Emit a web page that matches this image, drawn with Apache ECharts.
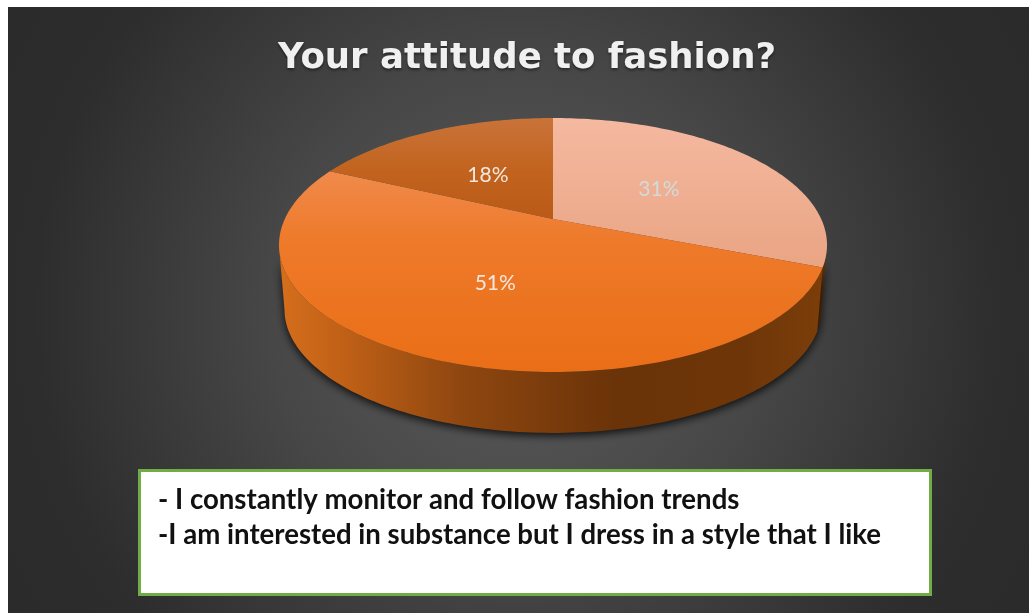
<!DOCTYPE html>
<html>
<head>
<meta charset="utf-8">
<style>html,body{margin:0;padding:0;background:#fff}#c{width:1029px;height:613px}</style>
<script src="https://cdn.jsdelivr.net/npm/echarts@6/dist/echarts.min.js"></script>
</head>
<body>
<div id="c"></div>
<script>
const titleText = 'Your attitude to fashion?';
const categories = ['Slice A', 'Slice B', 'Slice C'];
const shares = [31, 51, 18];
const noteLines = ['- I constantly monitor and follow fashion trends', '-I am interested in substance but I dress in a style that I like'];

const G = echarts.graphic;
const topStops = [
  [[0, '#f5b9a0'], [1, '#e9a483']],
  [[0, '#f08a4c'], [0.35, '#ee7a2a'], [1, '#ea6e16']],
  [[0, '#c9733a'], [0.5, '#c2641f'], [1, '#b95b16']]
];
const topSpans = [[118, 270], [170, 372], [118, 220]];
const labelColors = ['#d3dada', '#f3e7dd', '#f3e7dd'];

// perspective projection of the unit disc onto the pie's top face
const CX = 553, APEX = 219, K = 0.2047, B = 76.8, A = 268.2;
const WALL_FROM = 102 / 180 * Math.PI, WALL_TO = 258 / 180 * Math.PI;
function topPoint(theta, f) {
  const u = Math.sin(theta) * f, v = -Math.cos(theta) * f, w = 1 - K * v;
  return [CX + A * u / w, (APEX + B * v) / w];
}
function basePoint(theta) {
  const p = topPoint(theta, 1);
  return [CX + 0.98 * (p[0] - CX), 309.4 + 0.973 * (p[1] - 245)];
}
function arc(fn, a, b) {
  const n = Math.max(2, Math.ceil(Math.abs(b - a) / 0.02)), pts = [];
  for (let i = 0; i <= n; i++) pts.push(fn(a + (b - a) * i / n));
  return pts;
}
const total = shares.reduce((s, x) => s + x, 0);
function angles(i) {
  let acc = 0;
  for (let j = 0; j < i; j++) acc += shares[j];
  return [acc / total * 2 * Math.PI, (acc + shares[i]) / total * 2 * Math.PI];
}
const wallFill = i => new G.LinearGradient(280, 0, 825, 0, i === 0
  ? [{offset: 0, color: '#6a3308'}, {offset: 1, color: '#5c2d08'}]
  : [{offset: 0, color: '#d56e1c'}, {offset: 0.12, color: '#bf6016'}, {offset: 0.33, color: '#8f4710'},
     {offset: 0.62, color: '#6a3308'}, {offset: 0.85, color: '#6e3608'}, {offset: 1, color: '#7c3e0a'}], true);

function renderItem(params, api) {
  const i = params.dataIndex;
  const value = api.value(1);
  const [a, b] = angles(i);
  const top = arc(t => topPoint(t, 1), a, b);
  const apex = topPoint(0, 0);
  const mid = (a + b) / 2;
  const lp = topPoint(mid, 0.5);
  const span = topSpans[i];
  const children = [];
  const wa = Math.max(a, WALL_FROM), wb = Math.min(b, WALL_TO);
  if (wb > wa) {
    children.push({
      type: 'polygon', z2: 1,
      shape: {points: arc(t => topPoint(t, 1), wa, wb).concat(arc(basePoint, wa, wb).reverse())},
      style: {fill: wallFill(i), shadowBlur: 9, shadowColor: 'rgba(0,0,0,0.8)', shadowOffsetY: 3}
    });
  }
  children.push({
    type: 'polygon', z2: 5,
    shape: {points: [apex].concat(top)},
    style: {fill: new G.LinearGradient(0, span[0], 0, span[1],
      topStops[i].map(s => ({offset: s[0], color: s[1]})), true)}
  });
  children.push({
    type: 'text', z2: 10,
    style: {
      text: value + '%', x: lp[0] + 1, y: lp[1] + 3, align: 'center', verticalAlign: 'middle',
      fill: labelColors[i], fontFamily: 'Lato', fontSize: 21
    }
  });
  return {type: 'group', children};
}

const chart = echarts.init(document.getElementById('c'), null, {renderer: 'canvas'});
chart.setOption({
  animation: false,
  backgroundColor: '#ffffff',
  title: {
    text: titleText, left: 522, top: 36, textAlign: 'center',
    textStyle: {
      fontFamily: 'DejaVu Sans', fontWeight: 'bold', fontSize: 35.5, color: '#f0f0f0',
      textShadowColor: 'rgba(0,0,0,0.45)', textShadowBlur: 3, textShadowOffsetY: 2
    }
  },
  graphic: [
    {
      type: 'rect', z: -10, silent: true,
      shape: {x: 8, y: 7, width: 1021, height: 606},
      style: {fill: new G.RadialGradient(518, 310, 620, [
        {offset: 0, color: '#5c5c5c'}, {offset: 0.4, color: '#474747'},
        {offset: 0.78, color: '#2d2d2d'}, {offset: 1, color: '#2a2a2a'}], true)}
    },
    {
      type: 'rect', z: 20, silent: true,
      shape: {x: 139.5, y: 470.5, width: 791, height: 124},
      style: {fill: '#ffffff', stroke: '#70ad47', lineWidth: 3}
    },
    {
      type: 'text', z: 21, silent: true,
      style: {text: noteLines[0], x: 158, y: 500, verticalAlign: 'middle', fill: '#111111', fontFamily: 'Lato', fontWeight: 'bold', fontSize: 27.6}
    },
    {
      type: 'text', z: 21, silent: true,
      style: {text: noteLines[1], x: 158, y: 535, verticalAlign: 'middle', fill: '#111111', fontFamily: 'Lato', fontWeight: 'bold', fontSize: 27.6}
    }
  ],
  series: [{
    type: 'custom',
    coordinateSystem: 'none',
    renderItem: renderItem,
    data: categories.map((c, i) => ({name: c, value: [i, shares[i]]})),
    silent: true
  }]
});
</script>
</body>
</html>
